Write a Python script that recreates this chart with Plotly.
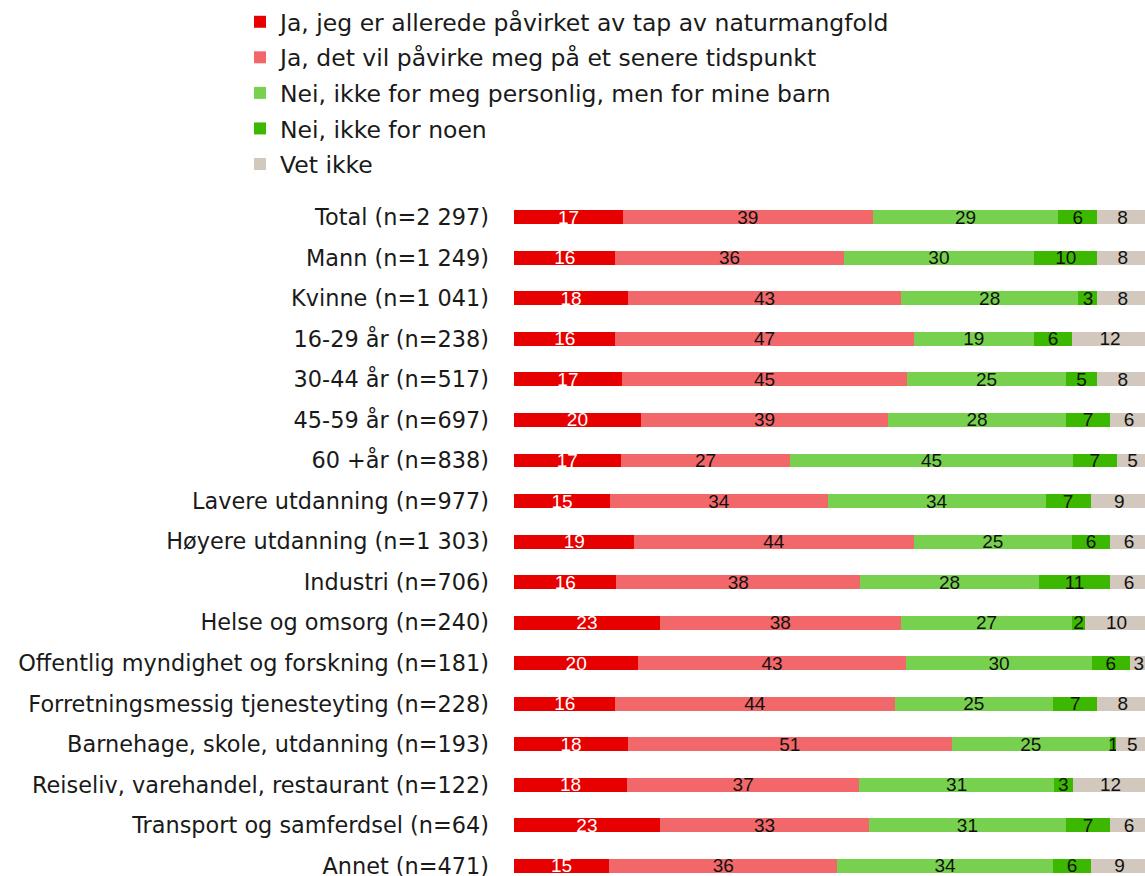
import plotly.graph_objects as go

categories = [
    "Total (n=2 297)", "Mann (n=1 249)", "Kvinne (n=1 041)", "16-29 år (n=238)",
    "30-44 år (n=517)", "45-59 år (n=697)", "60 +år (n=838)", "Lavere utdanning (n=977)",
    "Høyere utdanning (n=1 303)", "Industri (n=706)", "Helse og omsorg (n=240)",
    "Offentlig myndighet og forskning (n=181)", "Forretningsmessig tjenesteyting (n=228)",
    "Barnehage, skole, utdanning (n=193)", "Reiseliv, varehandel, restaurant (n=122)",
    "Transport og samferdsel (n=64)", "Annet (n=471)",
]

series_names = [
    "Ja, jeg er allerede påvirket av tap av naturmangfold",
    "Ja, det vil påvirke meg på et senere tidspunkt",
    "Nei, ikke for meg personlig, men for mine barn",
    "Nei, ikke for noen",
    "Vet ikke",
]

allerede = [17, 16, 18, 16, 17, 20, 17, 15, 19, 16, 23, 20, 16, 18, 18, 23, 15]
senere = [39, 36, 43, 47, 45, 39, 27, 34, 44, 38, 38, 43, 44, 51, 37, 33, 36]
mine_barn = [29, 30, 28, 19, 25, 28, 45, 34, 25, 28, 27, 30, 25, 25, 31, 31, 34]
ingen = [6, 10, 3, 6, 5, 7, 7, 7, 6, 11, 2, 6, 7, 1, 3, 7, 6]
vet_ikke = [8, 8, 8, 12, 8, 6, 5, 9, 6, 6, 10, 3, 8, 5, 12, 6, 9]

series_values = [allerede, senere, mine_barn, ingen, vet_ikke]
colors = ["#E60000", "#F2686A", "#77D14E", "#3DB800", "#D2C8BD"]
text_colors = ["white", "#111111", "#111111", "#111111", "#111111"]

W, H = 1145, 876
LEFT, TOP = 514, 197

fig = go.Figure()
for i, (name, vals) in enumerate(zip(series_names, series_values)):
    fig.add_trace(go.Bar(
        y=categories, x=vals, name=name, orientation="h",
        marker=dict(color=colors[i], line=dict(width=0)),
        text=[str(v) for v in vals], textposition="inside", textangle=0,
        insidetextanchor="middle", constraintext="none",
        textfont=dict(family="Liberation Sans, Arial, sans-serif", size=19,
                      color=text_colors[i]),
        legendgroup=f"g{i}", hoverinfo="skip", cliponaxis=True,
    ))

fig.update_layout(
    width=W, height=H,
    barmode="stack", barnorm="percent", bargap=0.655,
    margin=dict(l=LEFT, r=0, t=TOP, b=0, pad=0, autoexpand=False),
    paper_bgcolor="white", plot_bgcolor="white",
    font=dict(family="DejaVu Sans, sans-serif", size=22, color="#1a1a1a"),
    showlegend=True,
    legend=dict(
        xref="container", yref="container", x=240 / W, y=1 - 0 / H,
        xanchor="left", yanchor="top", traceorder="grouped",
        tracegroupgap=2, font=dict(size=23.5, color="#1a1a1a"),
        bgcolor="rgba(0,0,0,0)",
    ),
)
fig.update_xaxes(range=[0, 99.5], visible=False, fixedrange=True, automargin=False)
fig.update_yaxes(
    type="category", categoryorder="array", categoryarray=categories,
    range=[16.25, -0.5], showgrid=False, showline=False, zeroline=False,
    ticks="", ticklabelstandoff=24, automargin=False,
    tickfont=dict(size=22.4, color="#1a1a1a"),
)

fig.write_html("out.html")
